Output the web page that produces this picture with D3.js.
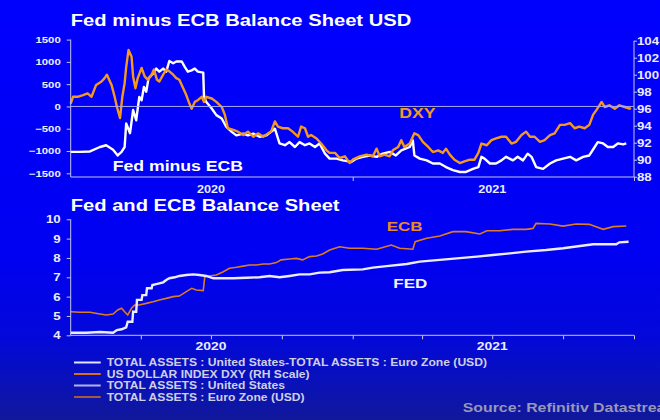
<!DOCTYPE html>
<html>
<head>
<meta charset="utf-8">
<script src="https://cdn.jsdelivr.net/npm/d3@7"></script>
<style>
  body { margin: 0; background: #0000fe; }
  svg { display: block; font-family: Arial, "Liberation Sans", sans-serif; font-weight: bold; }
</style>
</head>
<body>
<script>
// Fed minus ECB balance sheet, USD bn (left scale, top panel)
const fedMinusEcb = [
  ["2020-01-01", -1020], ["2020-01-13", -1020], ["2020-01-26", -1010], ["2020-02-08", -910],
  ["2020-02-16", -870], ["2020-02-25", -970], ["2020-03-02", -1100], ["2020-03-07", -1020],
  ["2020-03-11", -910], ["2020-03-13", -380], ["2020-03-18", -600], ["2020-03-22", -80],
  ["2020-03-26", -310], ["2020-03-30", 215], ["2020-04-02", 140], ["2020-04-05", 440],
  ["2020-04-08", 330], ["2020-04-11", 630], ["2020-04-17", 740], ["2020-04-21", 850],
  ["2020-04-25", 780], ["2020-04-30", 850], ["2020-05-04", 780], ["2020-05-08", 1020],
  ["2020-05-13", 970], ["2020-05-17", 1010], ["2020-05-24", 1010], ["2020-05-28", 890],
  ["2020-06-01", 780], ["2020-06-06", 810], ["2020-06-10", 850], ["2020-06-14", 780],
  ["2020-06-21", 760], ["2020-06-22", 215], ["2020-06-25", 100], ["2020-07-02", -45],
  ["2020-07-08", -195], ["2020-07-15", -270], ["2020-07-21", -460], ["2020-07-28", -570],
  ["2020-08-03", -650], ["2020-08-12", -610], ["2020-08-18", -650], ["2020-08-25", -610],
  ["2020-09-02", -680], ["2020-09-11", -650], ["2020-09-17", -570], ["2020-09-22", -500],
  ["2020-09-28", -830], ["2020-10-05", -870], ["2020-10-11", -800], ["2020-10-18", -910],
  ["2020-10-24", -800], ["2020-10-31", -870], ["2020-11-06", -830], ["2020-11-13", -910],
  ["2020-11-19", -830], ["2020-11-26", -1060], ["2020-12-02", -1170], ["2020-12-11", -1170],
  ["2020-12-19", -1210], ["2020-12-30", -1245], ["2021-01-06", -1170], ["2021-01-14", -1130],
  ["2021-01-23", -1100], ["2021-02-01", -1130], ["2021-02-09", -1060], ["2021-02-18", -1020],
  ["2021-02-26", -1100], ["2021-03-05", -985], ["2021-03-16", -910], ["2021-03-20", -760],
  ["2021-03-22", -1100], ["2021-03-29", -1170], ["2021-04-07", -1210], ["2021-04-15", -1280],
  ["2021-04-24", -1280], ["2021-05-02", -1360], ["2021-05-11", -1430], ["2021-05-20", -1470],
  ["2021-05-28", -1470], ["2021-06-06", -1400], ["2021-06-13", -1360], ["2021-06-17", -1130],
  ["2021-06-21", -1170], ["2021-06-28", -1280], ["2021-07-06", -1280], ["2021-07-13", -1210],
  ["2021-07-19", -1130], ["2021-07-28", -1210], ["2021-08-03", -1130], ["2021-08-10", -1210],
  ["2021-08-16", -1060], ["2021-08-21", -1130], ["2021-08-27", -1360], ["2021-09-05", -1400],
  ["2021-09-14", -1280], ["2021-09-22", -1210], ["2021-10-01", -1170], ["2021-10-10", -1130],
  ["2021-10-18", -1210], ["2021-10-27", -1130], ["2021-11-04", -1100], ["2021-11-11", -910],
  ["2021-11-15", -800], ["2021-11-22", -830], ["2021-11-28", -910], ["2021-12-05", -910],
  ["2021-12-11", -830], ["2021-12-18", -850], ["2021-12-22", -830]
];

// US dollar index DXY (right scale, top panel)
const dxy = [
  ["2020-01-01", 96.6], ["2020-01-04", 97.4], ["2020-01-10", 97.4], ["2020-01-17", 97.6],
  ["2020-01-23", 97.8], ["2020-01-28", 97.4], ["2020-02-03", 98.8], ["2020-02-10", 99.2],
  ["2020-02-14", 99.6], ["2020-02-17", 100.0], ["2020-02-23", 98.8], ["2020-02-27", 97.4],
  ["2020-03-01", 96.2], ["2020-03-05", 94.9], ["2020-03-08", 97.4], ["2020-03-11", 99.0],
  ["2020-03-13", 100.9], ["2020-03-16", 102.9], ["2020-03-20", 102.1], ["2020-03-22", 99.8],
  ["2020-03-25", 98.4], ["2020-03-28", 99.6], ["2020-04-02", 100.8], ["2020-04-06", 99.8],
  ["2020-04-10", 99.4], ["2020-04-15", 100.0], ["2020-04-18", 100.6], ["2020-04-22", 99.4],
  ["2020-04-25", 99.2], ["2020-04-30", 100.0], ["2020-05-04", 100.6], ["2020-05-08", 100.4],
  ["2020-05-13", 100.0], ["2020-05-17", 99.6], ["2020-05-21", 99.4], ["2020-05-26", 98.4],
  ["2020-05-30", 97.6], ["2020-06-03", 96.6], ["2020-06-06", 96.0], ["2020-06-10", 96.8],
  ["2020-06-14", 97.0], ["2020-06-19", 97.4], ["2020-06-22", 96.8], ["2020-06-25", 97.4],
  ["2020-07-02", 97.2], ["2020-07-08", 96.8], ["2020-07-15", 96.2], ["2020-07-19", 95.3],
  ["2020-07-23", 93.7], ["2020-07-30", 93.5], ["2020-08-05", 93.3], ["2020-08-12", 92.9],
  ["2020-08-18", 93.3], ["2020-08-25", 92.7], ["2020-08-31", 93.1], ["2020-09-07", 92.7],
  ["2020-09-13", 93.1], ["2020-09-17", 93.3], ["2020-09-22", 94.5], ["2020-09-26", 93.9],
  ["2020-10-02", 93.7], ["2020-10-09", 93.7], ["2020-10-15", 93.3], ["2020-10-22", 92.7],
  ["2020-10-26", 93.9], ["2020-10-31", 93.7], ["2020-11-04", 92.7], ["2020-11-08", 92.9],
  ["2020-11-15", 92.5], ["2020-11-21", 91.9], ["2020-11-28", 91.1], ["2020-12-02", 90.8],
  ["2020-12-09", 90.8], ["2020-12-15", 90.2], ["2020-12-22", 90.4], ["2020-12-28", 89.6],
  ["2021-01-01", 90.0], ["2021-01-10", 90.4], ["2021-01-19", 90.6], ["2021-01-27", 90.4],
  ["2021-02-01", 91.3], ["2021-02-05", 90.4], ["2021-02-11", 90.6], ["2021-02-18", 90.4],
  ["2021-02-22", 91.1], ["2021-03-01", 91.5], ["2021-03-05", 92.3], ["2021-03-09", 91.5],
  ["2021-03-16", 91.9], ["2021-03-22", 93.1], ["2021-03-27", 92.9], ["2021-04-02", 92.1],
  ["2021-04-09", 91.5], ["2021-04-15", 90.9], ["2021-04-22", 91.1], ["2021-04-28", 90.8],
  ["2021-05-02", 91.3], ["2021-05-07", 90.6], ["2021-05-13", 90.0], ["2021-05-20", 89.6],
  ["2021-05-26", 89.8], ["2021-06-02", 90.0], ["2021-06-08", 90.0], ["2021-06-13", 90.8],
  ["2021-06-17", 91.9], ["2021-06-24", 91.7], ["2021-06-30", 92.3], ["2021-07-06", 92.5],
  ["2021-07-13", 92.7], ["2021-07-19", 92.7], ["2021-07-26", 91.9], ["2021-08-01", 92.1],
  ["2021-08-08", 92.9], ["2021-08-14", 93.3], ["2021-08-19", 92.7], ["2021-08-25", 92.7],
  ["2021-09-01", 92.1], ["2021-09-07", 92.3], ["2021-09-14", 92.9], ["2021-09-20", 93.1],
  ["2021-09-27", 94.1], ["2021-10-03", 94.1], ["2021-10-10", 94.3], ["2021-10-16", 93.7],
  ["2021-10-22", 93.9], ["2021-10-29", 93.7], ["2021-11-04", 94.1], ["2021-11-09", 95.3],
  ["2021-11-13", 95.8], ["2021-11-20", 96.8], ["2021-11-24", 96.2], ["2021-11-30", 96.4],
  ["2021-12-07", 96.0], ["2021-12-13", 96.4], ["2021-12-20", 96.2], ["2021-12-26", 96.0],
  ["2021-12-28", 96.1]
];

// Total assets, USD tn (bottom panel)
const fedAssets = [
  ["2020-01-01", 4.13], ["2020-01-21", 4.13], ["2020-02-08", 4.17], ["2020-02-25", 4.13],
  ["2020-03-01", 4.27], ["2020-03-07", 4.31], ["2020-03-13", 4.41], ["2020-03-15", 4.70],
  ["2020-03-21", 4.70], ["2020-03-22", 5.22], ["2020-03-26", 5.22], ["2020-03-27", 5.83],
  ["2020-04-02", 5.83], ["2020-04-03", 6.08], ["2020-04-08", 6.08], ["2020-04-09", 6.43],
  ["2020-04-15", 6.43], ["2020-04-16", 6.60], ["2020-04-21", 6.65], ["2020-04-25", 6.69],
  ["2020-04-30", 6.74], ["2020-05-04", 6.86], ["2020-05-08", 6.95], ["2020-05-15", 7.00],
  ["2020-05-21", 7.07], ["2020-05-30", 7.12], ["2020-06-08", 7.15], ["2020-06-16", 7.12],
  ["2020-06-25", 7.07], ["2020-07-04", 6.95], ["2020-07-12", 6.95], ["2020-07-30", 6.95],
  ["2020-08-16", 6.98], ["2020-09-02", 7.00], ["2020-09-15", 7.07], ["2020-09-28", 7.00],
  ["2020-10-11", 7.07], ["2020-10-24", 7.15], ["2020-11-06", 7.15], ["2020-11-19", 7.24],
  ["2020-12-02", 7.26], ["2020-12-19", 7.38], ["2021-01-14", 7.41], ["2021-01-27", 7.50],
  ["2021-02-14", 7.58], ["2021-03-12", 7.69], ["2021-03-29", 7.81], ["2021-04-24", 7.90],
  ["2021-05-16", 7.98], ["2021-06-11", 8.07], ["2021-07-02", 8.15], ["2021-07-24", 8.24],
  ["2021-08-14", 8.33], ["2021-09-09", 8.41], ["2021-10-01", 8.50], ["2021-10-18", 8.59],
  ["2021-11-09", 8.71], ["2021-12-09", 8.71], ["2021-12-13", 8.81], ["2021-12-25", 8.84]
];

const ecbAssets = [
  ["2020-01-01", 5.22], ["2020-01-13", 5.19], ["2020-01-26", 5.19], ["2020-02-08", 5.10],
  ["2020-02-16", 5.05], ["2020-02-25", 5.10], ["2020-03-02", 5.31], ["2020-03-07", 5.40],
  ["2020-03-11", 5.22], ["2020-03-15", 5.05], ["2020-03-20", 5.40], ["2020-03-24", 5.57],
  ["2020-03-30", 5.57], ["2020-04-08", 5.65], ["2020-04-17", 5.74], ["2020-04-25", 5.83],
  ["2020-05-04", 5.91], ["2020-05-13", 6.00], ["2020-05-21", 6.03], ["2020-05-30", 6.26],
  ["2020-06-06", 6.43], ["2020-06-12", 6.34], ["2020-06-21", 6.31], ["2020-06-23", 7.03],
  ["2020-06-29", 7.07], ["2020-07-08", 7.12], ["2020-07-17", 7.29], ["2020-07-25", 7.47],
  ["2020-08-03", 7.52], ["2020-08-12", 7.58], ["2020-08-20", 7.64], ["2020-08-29", 7.64],
  ["2020-09-07", 7.69], ["2020-09-15", 7.69], ["2020-09-24", 7.76], ["2020-09-30", 7.90],
  ["2020-10-11", 7.95], ["2020-10-20", 7.98], ["2020-10-28", 7.90], ["2020-11-06", 8.07],
  ["2020-11-15", 8.10], ["2020-11-23", 8.21], ["2020-12-02", 8.41], ["2020-12-15", 8.58],
  ["2020-12-28", 8.50], ["2021-01-14", 8.50], ["2021-02-01", 8.45], ["2021-02-20", 8.67],
  ["2021-03-03", 8.50], ["2021-03-20", 8.45], ["2021-03-23", 8.84], ["2021-04-07", 9.02],
  ["2021-04-24", 9.14], ["2021-05-11", 9.36], ["2021-05-28", 9.36], ["2021-06-15", 9.24],
  ["2021-06-24", 9.41], ["2021-07-11", 9.41], ["2021-07-28", 9.48], ["2021-08-14", 9.48],
  ["2021-08-23", 9.53], ["2021-08-27", 9.79], ["2021-09-14", 9.76], ["2021-10-01", 9.65],
  ["2021-10-18", 9.76], ["2021-11-04", 9.74], ["2021-11-22", 9.48], ["2021-12-05", 9.62],
  ["2021-12-22", 9.65]
];

const leftTicks = [-1500, -1000, -500, 0, 500, 1000, 1500];
const rightTicks = [88, 90, 92, 94, 96, 98, 100, 102, 104];
const lowerTicks = [4, 5, 6, 7, 8, 9, 10];
const yearLabels = ["2020", "2021"];
const legendLabels = [
  "TOTAL ASSETS : United States-TOTAL ASSETS : Euro Zone (USD)",
  "US DOLLAR INDEX DXY (RH Scale)",
  "TOTAL ASSETS : United States",
  "TOTAL ASSETS : Euro Zone (USD)"
];

const width = 660, height = 420;
const parse = d3.timeParse("%Y-%m-%d");
const plain = d3.format("d");

// the source image is a bit wider than natural, so text is stretched to match
function stretch(sel, k = 1.26) {
  sel.each(function () {
    const w = this.getComputedTextLength();
    d3.select(this).attr("textLength", w * k).attr("lengthAdjust", "spacingAndGlyphs");
  });
}

const svg = d3.select("body").append("svg")
  .attr("width", width)
  .attr("height", height);

const grad = svg.append("defs").append("linearGradient")
  .attr("id", "bg").attr("x1", 0).attr("y1", 0).attr("x2", 0).attr("y2", 1);
[[0, "#0000fe"], [0.6, "#0000f2"], [0.8, "#0308da"], [0.92, "#0a12b6"], [1, "#11189a"]]
  .forEach(([o, c]) => grad.append("stop").attr("offset", o).attr("stop-color", c));

svg.append("rect").attr("width", width).attr("height", height).attr("fill", "url(#bg)");

const x = d3.scaleTime()
  .domain([new Date(2020, 0, 1), new Date(2022, 0, 1)])
  .range([70.7, 634]);

const yLeft = d3.scaleLinear().domain([-1500, 1500]).range([173.3, 39.6]);
const yRight = d3.scaleLinear().domain([88, 104]).range([176.7, 40.7]);
const yLow = d3.scaleLinear().domain([4, 10]).range([335.3, 219.3]);

const axisColor = "#c4c4ec";
const tickText = "#ececff";

function styleAxis(g, size) {
  g.select(".domain").remove();
  g.selectAll(".tick line").attr("stroke", axisColor);
  g.selectAll(".tick text")
    .attr("fill", tickText)
    .style("font-size", size + "px")
    .style("font-weight", "bold")
    .style("font-family", "Arial, 'Liberation Sans', sans-serif");
}

function vline(xp, y0, y1) {
  svg.append("line").attr("x1", xp).attr("x2", xp).attr("y1", y0).attr("y2", y1)
    .attr("stroke", axisColor).attr("stroke-width", 1);
}
function hline(yp, x0, x1, color = axisColor) {
  svg.append("line").attr("x1", x0).attr("x2", x1).attr("y1", yp).attr("y2", yp)
    .attr("stroke", color).attr("stroke-width", 1);
}

// ---- top panel ----
const upper = svg.append("g");

const gL = upper.append("g").attr("transform", "translate(70.7,0)")
  .call(d3.axisLeft(yLeft).tickValues(leftTicks).tickFormat(plain).tickSize(4).tickPadding(6));
styleAxis(gL, 9);
stretch(gL.selectAll(".tick text"));

const gR = upper.append("g").attr("transform", "translate(634,0)")
  .call(d3.axisRight(yRight).tickValues(rightTicks).tickFormat(plain).tickSize(3).tickPadding(0));
styleAxis(gR, 10.5);
stretch(gR.selectAll(".tick text"));

const gX1 = upper.append("g").attr("transform", "translate(0,177)")
  .call(d3.axisBottom(x).tickValues([new Date(2021, 0, 1), new Date(2022, 0, 1)])
    .tickSize(4).tickFormat(""));
styleAxis(gX1, 10);

vline(70.7, 39.6, 177);
vline(634, 40.7, 177);
hline(177, 70.7, 634);
hline(yLeft(0), 70.7, 634, "#a8a8f4");

upper.selectAll("text.year")
  .data(yearLabels)
  .join("text")
  .attr("class", "year")
  .attr("x", d => x(new Date(+d, 6, 1)))
  .attr("y", 193)
  .attr("text-anchor", "middle")
  .attr("fill", tickText)
  .style("font-size", "10px")
  .text(d => d)
  .call(stretch);

const lineLeft = d3.line().x(d => x(parse(d[0]))).y(d => yLeft(d[1]));
const lineRight = d3.line().x(d => x(parse(d[0]))).y(d => yRight(d[1]));

upper.append("path").datum(fedMinusEcb)
  .attr("d", lineLeft)
  .attr("fill", "none").attr("stroke", "#ffffff").attr("stroke-width", 2.4)
  .attr("stroke-linejoin", "round");

upper.append("path").datum(dxy)
  .attr("d", lineRight)
  .attr("fill", "none").attr("stroke", "#f39a1e").attr("stroke-width", 2.4)
  .attr("stroke-linejoin", "round");

// ---- bottom panel ----
const lower = svg.append("g");

const gLow = lower.append("g").attr("transform", "translate(70.7,0)")
  .call(d3.axisLeft(yLow).tickValues(lowerTicks).tickFormat(plain).tickSize(4).tickPadding(6));
styleAxis(gLow, 10.5);
stretch(gLow.selectAll(".tick text"));

const quarters = d3.timeMonth.every(3).range(new Date(2020, 3, 1), new Date(2022, 0, 2));
const gX2 = lower.append("g").attr("transform", "translate(0,335.3)")
  .call(d3.axisBottom(x).tickValues(quarters).tickSize(4).tickFormat(""));
styleAxis(gX2, 10);

vline(70.7, 219.3, 335.3);
hline(335.3, 70.7, 634);

lower.selectAll("text.year")
  .data(yearLabels)
  .join("text")
  .attr("class", "year")
  .attr("x", d => x(new Date(+d, 6, 1)))
  .attr("y", 350)
  .attr("text-anchor", "middle")
  .attr("fill", tickText)
  .style("font-size", "11px")
  .text(d => d)
  .call(stretch);

const lineLow = d3.line().x(d => x(parse(d[0]))).y(d => yLow(d[1]));

lower.append("path").datum(ecbAssets)
  .attr("d", lineLow)
  .attr("fill", "none").attr("stroke", "#dc7c22").attr("stroke-width", 1.6);

lower.append("path").datum(fedAssets)
  .attr("d", lineLow)
  .attr("fill", "none").attr("stroke", "#ececff").attr("stroke-width", 2.4);

// ---- titles and in-chart labels ----
const labels = [
  { t: "Fed minus ECB Balance Sheet USD", x: 70.7, y: 26, s: 16, c: "#ffffff" },
  { t: "Fed and ECB Balance Sheet", x: 70.7, y: 210.7, s: 16, c: "#ffffff" },
  { t: "Fed minus ECB", x: 112.7, y: 170.7, s: 14, c: "#ffffff" },
  { t: "DXY", x: 399.3, y: 118.3, s: 14, c: "#f39a1e" },
  { t: "ECB", x: 386.7, y: 230.7, s: 13.5, c: "#ec8a26" },
  { t: "FED", x: 393.3, y: 287.7, s: 13.5, c: "#f4f4ff" }
];

svg.selectAll("text.lbl")
  .data(labels)
  .join("text")
  .attr("class", "lbl")
  .attr("x", d => d.x)
  .attr("y", d => d.y)
  .attr("fill", d => d.c)
  .style("font-size", d => d.s + "px")
  .text(d => d.t)
  .call(stretch);

// ---- legend ----
const legendColors = ["#e4e4fa", "#d8701a", "#b4b4ec", "#a45a3c"];
const leg = svg.append("g");
const rows = leg.selectAll("g")
  .data(legendLabels)
  .join("g")
  .attr("transform", (d, i) => `translate(74,${362.5 + i * 11.5})`);

rows.append("line")
  .attr("x1", 0).attr("x2", 26.7)
  .attr("stroke", (d, i) => legendColors[i])
  .attr("stroke-width", 2);

rows.append("text")
  .attr("x", 32.7)
  .attr("y", 3.6)
  .attr("fill", "#cfcfe6")
  .style("font-size", "10px")
  .text(d => d)
  .call(s => stretch(s, 1.21));

svg.append("text")
  .attr("x", 462.7)
  .attr("y", 412)
  .attr("fill", "#9898b8")
  .style("font-size", "13px")
  .text("Source: Refinitiv Datastream")
  .call(s => stretch(s, 1.22));
</script>
</body>
</html>
